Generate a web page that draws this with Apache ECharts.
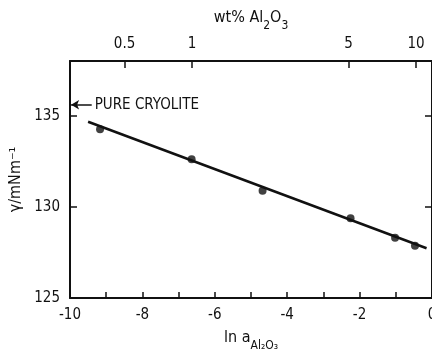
<!DOCTYPE html>
<html><head><meta charset="utf-8">
<script src="https://cdn.jsdelivr.net/npm/echarts@6/dist/echarts.min.js"></script>
<style>html,body{margin:0;padding:0;background:#fff}#c{width:432px;height:351px}</style>
</head><body><div id="c"></div>
<script>
// data
var pointsX = [-9.17, -6.64, -4.68, -2.25, -1.02, -0.47];
var pointsY = [134.25, 132.61, 130.88, 129.37, 128.31, 127.87];
var fitX = [-9.5, -0.15];
var fitY = [134.67, 127.73];
var bottomLabels = [-10, -8, -6, -4, -2, 0];
var bottomTicks = [-10, -9, -8, -7, -6, -5, -4, -3, -2, -1, 0];
var leftTicks = [125, 130, 135];
var topWt = [0.5, 1, 5, 10];
var topLabels = ['0.5', '1', '5', '10'];
var cryoliteY = 135.6;

var FONT = "'DejaVu Sans Condensed','Liberation Sans Narrow',sans-serif";
var topVals = topWt.map(function (w) { return Math.log10(w); });
var axisLine = { show: true, onZero: false, lineStyle: { color: '#111', width: 2 } };

var chart = echarts.init(document.getElementById('c'), null, { renderer: 'canvas' });
chart.setOption({
  backgroundColor: '#fff',
  animation: false,
  grid: { left: 70, right: 0, top: 61, bottom: 53, containLabel: false, outerBoundsMode: 'none' },
  xAxis: [
    {
      type: 'value', min: -10, max: 0, position: 'bottom',
      axisLine: axisLine,
      splitLine: { show: false },
      axisTick: { show: true, inside: true, length: 6, lineStyle: { color: '#111', width: 1.5 }, customValues: bottomTicks },
      axisLabel: { color: '#111', fontFamily: FONT, fontSize: 15, margin: 10, customValues: bottomLabels },
      name: '{m|ln a}{s|Al₂O₃}', nameLocation: 'middle', nameGap: 32,
      nameTextStyle: {
        rich: {
          m: { fontFamily: FONT, fontSize: 16, color: '#111', lineHeight: 22, verticalAlign: 'top' },
          s: { fontFamily: FONT, fontSize: 12, color: '#111', lineHeight: 22, verticalAlign: 'bottom', padding: [8, 0, 0, 0] }
        }
      }
    },
    {
      type: 'value', min: (70 - 192) / 224, max: (432 - 192) / 224, position: 'top',
      axisLine: axisLine,
      splitLine: { show: false },
      axisTick: { show: true, inside: true, length: 7, lineStyle: { color: '#111', width: 1.5 }, customValues: topVals },
      axisLabel: {
        color: '#111', fontFamily: FONT, fontSize: 15, margin: 9, customValues: topVals,
        formatter: function (v) {
          var i = topVals.findIndex(function (t) { return Math.abs(t - v) < 1e-6; });
          return i >= 0 ? topLabels[i] : '';
        }
      },
      name: '{m|wt% Al}{s|2}{m|O}{s|3}', nameLocation: 'middle', nameGap: 22,
      nameTextStyle: {
        rich: {
          m: { fontFamily: FONT, fontSize: 16, color: '#111', lineHeight: 22, verticalAlign: 'top' },
          s: { fontFamily: FONT, fontSize: 12, color: '#111', lineHeight: 22, verticalAlign: 'bottom', padding: [7, 0, 0, 0] }
        }
      }
    }
  ],
  yAxis: [
    {
      type: 'value', min: 125, max: 138, position: 'left',
      axisLine: axisLine,
      splitLine: { show: false },
      axisTick: { show: true, inside: true, length: 7, lineStyle: { color: '#111', width: 1.5 }, customValues: leftTicks },
      axisLabel: { color: '#111', fontFamily: FONT, fontSize: 15, margin: 10, customValues: leftTicks },
      name: 'γ/mNm⁻¹', nameLocation: 'middle', nameGap: 46, nameRotate: 90,
      nameTextStyle: { fontFamily: FONT, fontSize: 16, color: '#111' }
    },
    {
      type: 'value', min: 125, max: 138, position: 'right',
      axisLine: axisLine,
      splitLine: { show: false },
      axisTick: { show: true, inside: true, length: 7, lineStyle: { color: '#111', width: 1.5 }, customValues: leftTicks },
      axisLabel: { show: false }
    }
  ],
  series: [
    {
      type: 'line', xAxisIndex: 0, yAxisIndex: 0,
      data: fitX.map(function (x, i) { return [x, fitY[i]]; }),
      symbol: 'none', lineStyle: { color: '#111', width: 2.5 },
      markLine: {
        silent: true, symbol: ['none', 'arrow'], symbolSize: [7, 8],
        lineStyle: { color: '#111', width: 1.5, type: 'solid' },
        label: { show: true, position: 'start', formatter: 'PURE CRYOLITE', fontFamily: FONT, fontSize: 15, color: '#111', distance: 3 },
        data: [[{ coord: [-9.4, cryoliteY] }, { coord: [-9.97, cryoliteY] }]]
      }
    },
    {
      type: 'scatter', xAxisIndex: 0, yAxisIndex: 0,
      data: pointsX.map(function (x, i) { return [x, pointsY[i]]; }),
      symbol: 'circle', symbolSize: 8, itemStyle: { color: '#111' }
    }
  ]
});
</script></body></html>
